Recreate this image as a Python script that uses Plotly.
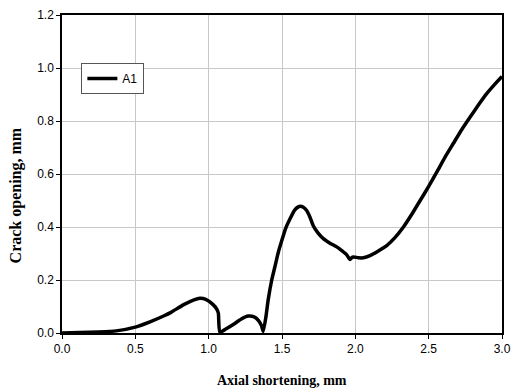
import plotly.graph_objects as go

x_vals = [0.0, 0.12, 0.25, 0.37, 0.5, 0.6, 0.7, 0.74, 0.83, 0.9, 0.94, 0.98, 1.03, 1.055, 1.066, 1.076,
          1.12, 1.17, 1.22, 1.27, 1.31, 1.34, 1.36, 1.372,
          1.39, 1.406, 1.43, 1.452, 1.475, 1.497, 1.525, 1.554, 1.585, 1.611, 1.625, 1.645, 1.668,
          1.69, 1.713, 1.745, 1.782, 1.83, 1.873, 1.91, 1.94, 1.964,
          1.975, 1.987, 2.02, 2.055, 2.1, 2.146, 2.214, 2.27, 2.328, 2.385, 2.442, 2.5,
          2.556, 2.61, 2.669, 2.725, 2.783, 2.84, 2.897, 2.95, 3.0]
y_vals = [0.0, 0.002, 0.004, 0.008, 0.022, 0.042, 0.066, 0.077, 0.107, 0.125, 0.131, 0.127, 0.107, 0.09, 0.075, 0.003,
          0.016, 0.033, 0.052, 0.064, 0.061, 0.047, 0.028, 0.006,
          0.06, 0.126, 0.2, 0.251, 0.305, 0.346, 0.395, 0.43, 0.463, 0.476, 0.478, 0.475, 0.462,
          0.438, 0.405, 0.378, 0.356, 0.338, 0.325, 0.31, 0.296, 0.277,
          0.284, 0.287, 0.284, 0.284, 0.292, 0.306, 0.33, 0.36, 0.4, 0.448, 0.5, 0.553,
          0.608, 0.662, 0.716, 0.767, 0.815, 0.861, 0.904, 0.938, 0.968]

series_name = "A1"
x_title = "Axial shortening, mm"
y_title = "Crack opening, mm"
x_ticks = [0.0, 0.5, 1.0, 1.5, 2.0, 2.5, 3.0]
y_ticks = [0.0, 0.2, 0.4, 0.6, 0.8, 1.0, 1.2]

fig = go.Figure()
fig.add_trace(go.Scatter(x=x_vals, y=y_vals, mode="lines", name=series_name,
                         line=dict(color="black", width=3.5, shape="spline", smoothing=0.5)))

axis_common = dict(
    showline=True, linecolor="black", linewidth=1.5, mirror=True,
    showgrid=True, gridcolor="#c8c8c8", gridwidth=1,
    ticks="outside", ticklen=4, tickcolor="black", tickwidth=1,
    tickfont=dict(family="Liberation Sans, Arial", size=12, color="black"),
    zeroline=False, automargin=False,
)

title_font = dict(family="Liberation Serif, Times New Roman", size=14, color="black", weight="bold")

fig.update_layout(
    width=512, height=389,
    margin=dict(l=62, r=10, t=15, b=56),
    paper_bgcolor="white", plot_bgcolor="white",
    showlegend=True,
    legend=dict(x=0.044, y=0.849, xanchor="left", yanchor="top",
                bgcolor="white", bordercolor="#555555", borderwidth=1,
                font=dict(family="Liberation Sans, Arial", size=12, color="black")),
    xaxis=dict(range=[0, 3], tickvals=x_ticks, ticktext=[f"{v:.1f}" for v in x_ticks], **axis_common),
    yaxis=dict(range=[0, 1.2], tickvals=y_ticks, ticktext=[f"{v:.1f}" for v in y_ticks], **axis_common),
    annotations=[
        dict(text=x_title, xref="paper", yref="paper", x=0.5, y=-0.15,
             xanchor="center", yanchor="middle", showarrow=False, font=title_font),
        dict(text=y_title, xref="paper", yref="paper", x=-0.105, y=0.432, textangle=-90,
             xanchor="center", yanchor="middle", showarrow=False,
             font=dict(title_font, size=16)),
    ],
)

fig.write_html("out.html")
